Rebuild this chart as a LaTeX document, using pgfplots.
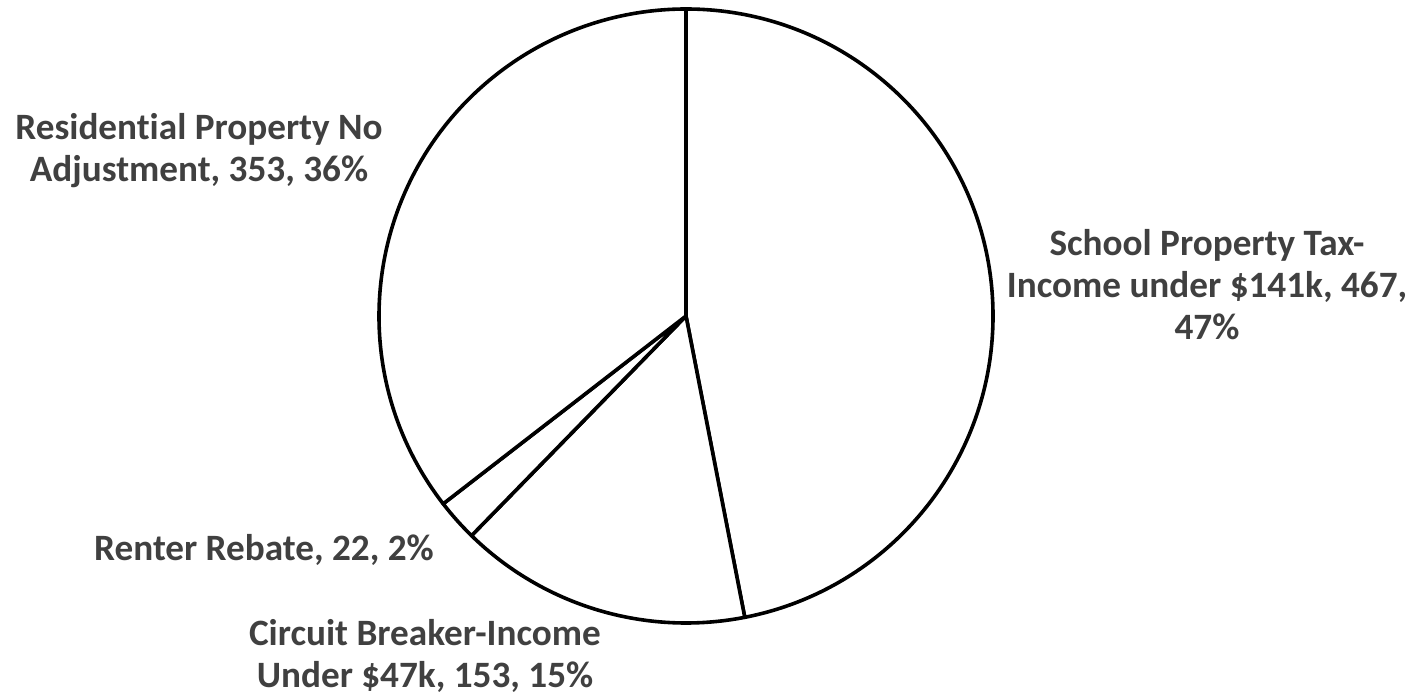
\documentclass[border=0pt]{standalone}
\usepackage{pgfplots}
\pgfplotsset{compat=1.18}
\usepackage{fontspec}
\setmainfont{Carlito}[Ligatures={NoCommon}]

\begin{document}
\begin{tikzpicture}
\begin{axis}[scale only axis, width=713.5pt, height=347pt,
    xmin=0, xmax=1427, ymin=0, ymax=694, hide axis, clip=false]
  \path (axis cs:0,0) rectangle (axis cs:1427,694);
  % slices, clockwise from 12 o'clock
  \pgfmathsetmacro\s{90}
  \pgfplotsforeachungrouped \v in {467,153,22,353}{
    \pgfmathsetmacro\e{\s-\v/995*360}
    \edef\temp{\noexpand\draw[line width=1.8pt, fill=white, line join=round]
      (axis cs:686,378) -- ++(\s:153.5pt)
      arc[start angle=\s, end angle=\e, radius=153.5pt] -- cycle;}
    \temp
    \global\let\s\e
  }
  \tikzset{lbl/.style={font=\fontsize{18.6}{21}\selectfont\bfseries, align=center, text=black!75}}
  \node[lbl] at (axis cs:1207,409) {School Property Tax-\\Income under \$141k, 467,\\47\%};
  \node[lbl] at (axis cs:199,543) {Residential Property No\\Adjustment, 353, 36\%};
  \node[lbl] at (axis cs:264,144) {Renter Rebate, 22, 2\%};
  \node[lbl] at (axis cs:425,38) {Circuit Breaker-Income\\Under \$47k, 153, 15\%};
\end{axis}
\end{tikzpicture}
\end{document}
